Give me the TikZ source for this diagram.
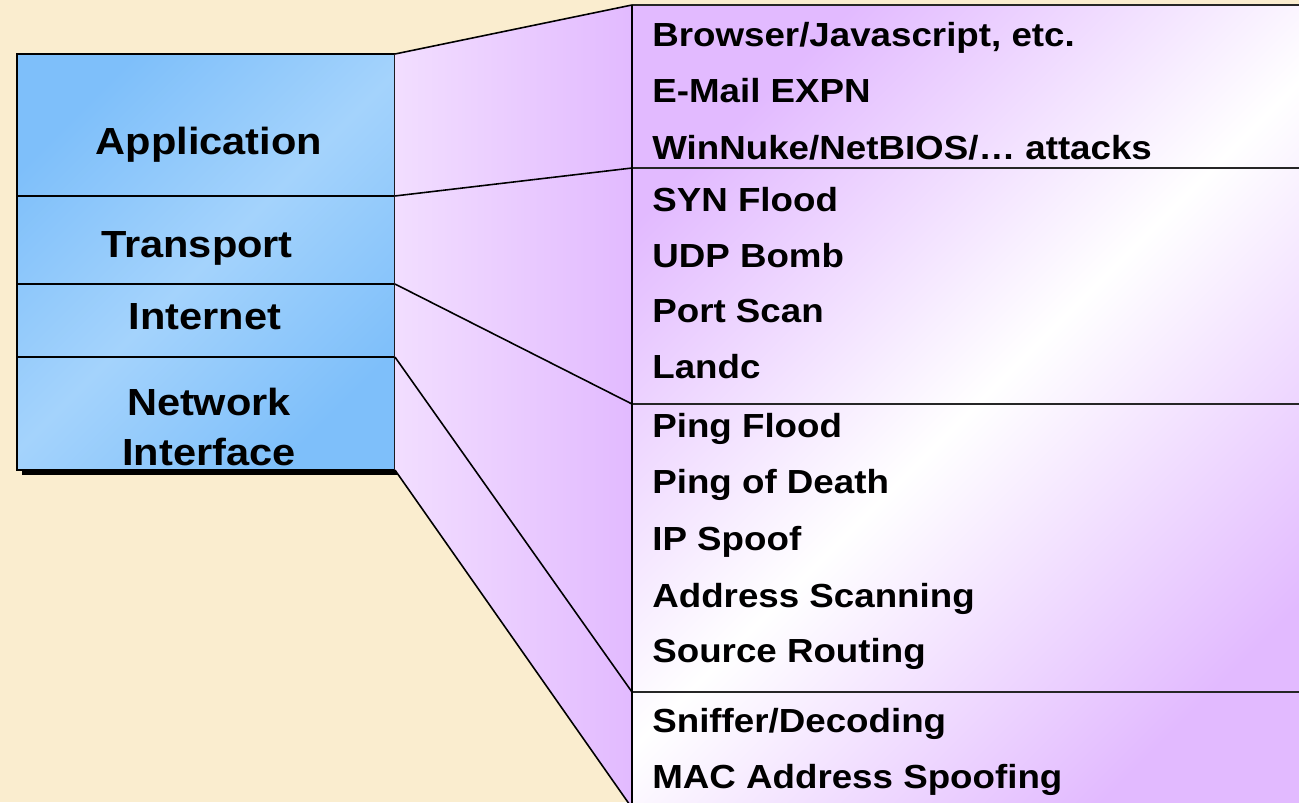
\documentclass[tikz,border=0pt]{standalone}
\usepackage{fontspec}
\setmainfont[FakeStretch=1.1]{Liberation Sans}

\definecolor{parchment}{RGB}{250,237,207}
\definecolor{lilac}{RGB}{226,186,255}
\definecolor{lilacpale}{RGB}{242,222,255}
\definecolor{skyblue}{RGB}{126,191,250}
\definecolor{skypale}{RGB}{164,211,252}

\tikzset{
  layer/.style={draw, line width=1.1pt, inner sep=0pt, outer sep=0pt,
    anchor=north west, minimum width=7.56cm},
  layertext/.style={anchor=base, font=\fontsize{21.5}{24}\selectfont\bfseries},
  attack/.style={anchor=base west, inner sep=0pt,
    font=\fontsize{19}{22}\selectfont\bfseries},
  link/.style={line width=0.9pt},
  divider/.style={line width=1.1pt, black!85},
}

\begin{document}
\begin{tikzpicture}[x=0.02cm, y=-0.02cm]
    \useasboundingbox (0,0) rectangle (1299,802);
    \clip (0,0) rectangle (1299,802);
    \fill[parchment] (0,0) rectangle (1299,802);

    % protocol stack
    \fill[black] (22,59) rectangle (400,475);
    \shade[top color=skyblue, bottom color=skyblue, middle color=skypale, shading angle=45]
        (17,54) rectangle (395,470);
    \node[layer, minimum height=2.84cm] (app)   at (17,54)  {};
    \node[layer, minimum height=1.76cm] (trans) at (17,196) {};
    \node[layer, minimum height=1.46cm] (inet)  at (17,284) {};
    \node[layer, minimum height=2.26cm] (nif)   at (17,357) {};

    % attack panel
    \coordinate (p0) at (632,5);
    \coordinate (p1) at (632,168);
    \coordinate (p2) at (632,404);
    \coordinate (p3) at (632,692);
    \coordinate (p4) at (632,808);

    \shade[left color=lilacpale, right color=lilac]
        (app.north east) -- (p0) -- (p4) -- (nif.south east) -- cycle;
    \shade[top color=lilac, bottom color=lilac, middle color=white, shading angle=45]
        (p0) rectangle (1310,815);

    \draw[divider] (p0) -- ++(700,0);
    \draw[divider] (p1) -- ++(700,0);
    \draw[divider] (p2) -- ++(700,0);
    \draw[divider] (p3) -- ++(700,0);
    \draw[line width=1.7pt] (p0) -- (p4);

    % connectors
    \draw[link] (app.north east) -- (p0);
    \draw[link] (app.south east) -- (p1);
    \draw[link] (trans.south east) -- (p2);
    \draw[link] (inet.south east) -- (p3);
    \draw[link] (nif.south east) -- (p4);

    % layer names
    \node[layertext] (tapp)   at (209,154) {Application};
    \node[layertext] (ttrans) at (197,257) {Transport};
    \node[layertext] (tinet)  at (205,329) {Internet};
    \node[layertext] (tnet)   at (209,415) {Network};
    \node[layertext] (tif)    at (209,465) {Interface};

    % attacks
    \node[attack] (a1)  at (652,46)  {Browser/Javascript, etc.};
    \node[attack] (a2)  at (652,102) {E-Mail EXPN};
    \node[attack] (a3)  at (652,159) {WinNuke/NetBIOS/… attacks};
    \node[attack] (a4)  at (652,211) {SYN Flood};
    \node[attack] (a5)  at (652,267) {UDP Bomb};
    \node[attack] (a6)  at (652,322) {Port Scan};
    \node[attack] (a7)  at (652,378) {Landc};
    \node[attack] (a8)  at (652,437) {Ping Flood};
    \node[attack] (a9)  at (652,493) {Ping of Death};
    \node[attack] (a10) at (652,550) {IP Spoof};
    \node[attack] (a11) at (652,607) {Address Scanning};
    \node[attack] (a12) at (652,662) {Source Routing};
    \node[attack] (a13) at (652,732) {Sniffer/Decoding};
    \node[attack] (a14) at (652,788) {MAC Address Spoofing};
\end{tikzpicture}
\end{document}
